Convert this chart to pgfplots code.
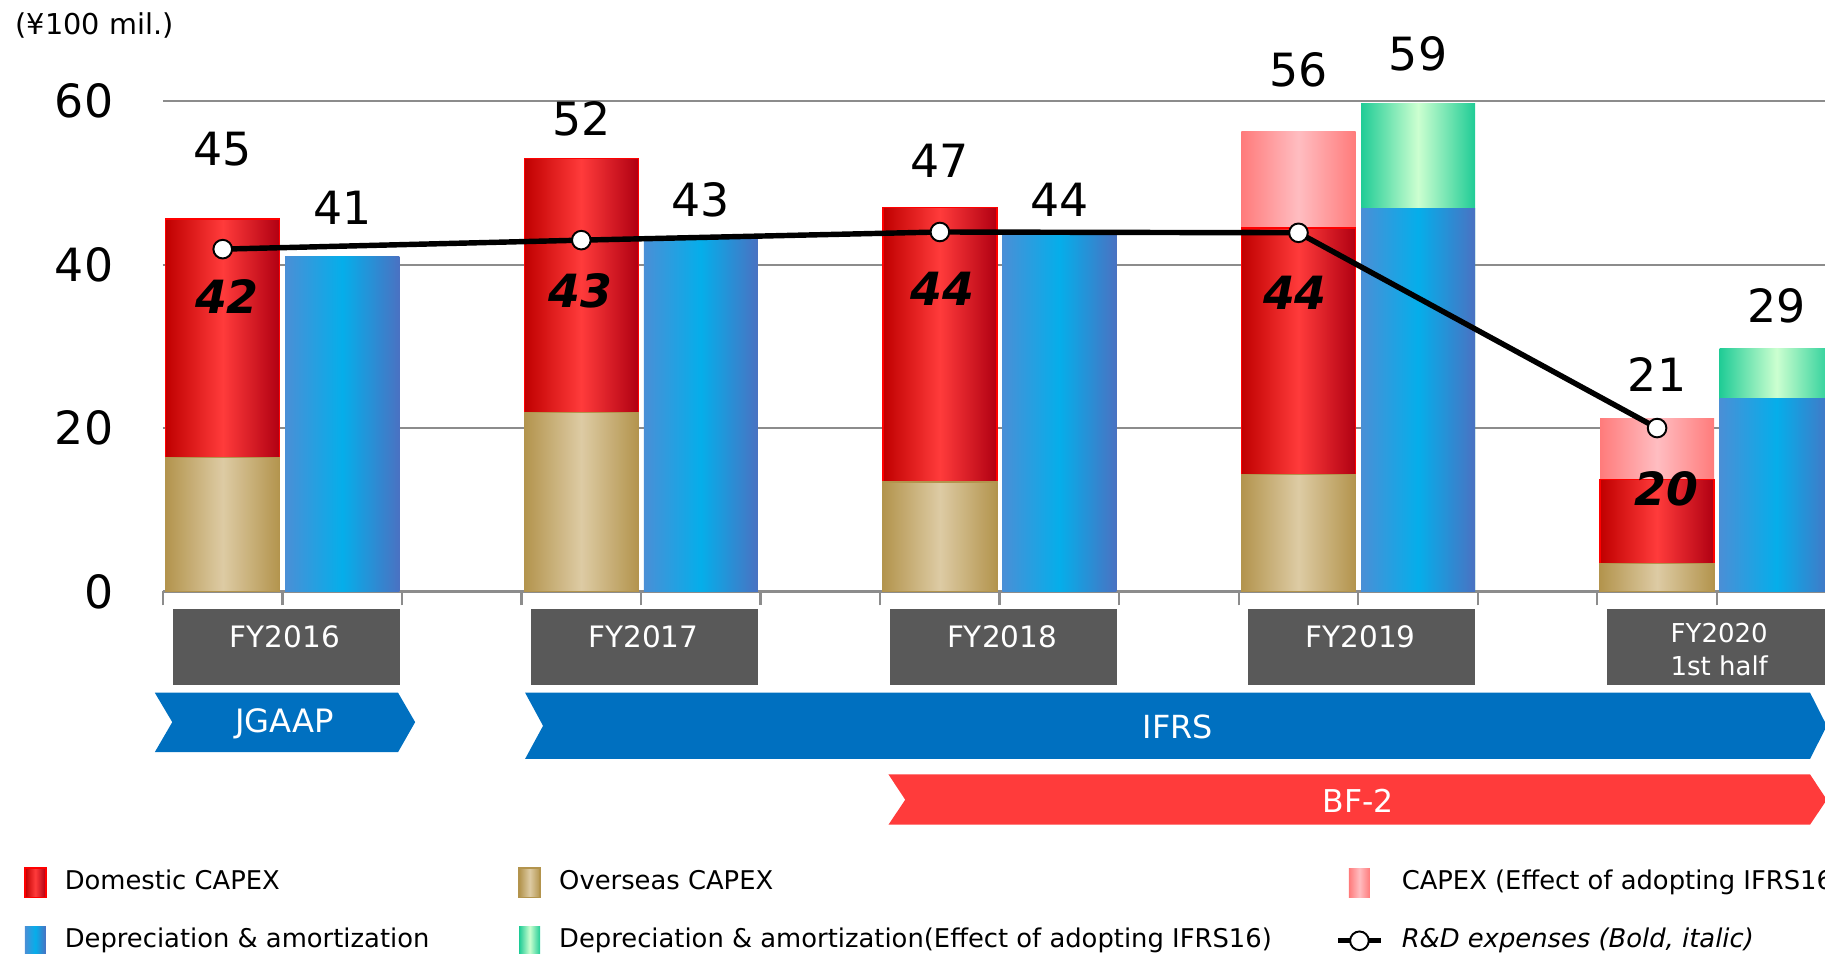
\documentclass[border=0pt]{standalone}
\usepackage{pgfplots}
\pgfplotsset{compat=1.18}
\usepackage{fontspec}
\setmainfont{DejaVu Sans}

\definecolor{gridgray}{HTML}{8C8C8C}
\definecolor{boxgray}{HTML}{595959}
\definecolor{ifrsblue}{HTML}{0070C0}
\definecolor{bfred}{HTML}{FF3B3B}
\definecolor{domL}{HTML}{C00000}
\definecolor{domM}{HTML}{FF3B3B}
\definecolor{domR}{HTML}{B00012}
\definecolor{ovL}{HTML}{B3944D}
\definecolor{ovM}{HTML}{DDCBA4}
\definecolor{pinkE}{HTML}{FF7B7B}
\definecolor{pinkM}{HTML}{FFBDC1}
\definecolor{daL}{HTML}{4A8FD6}
\definecolor{daM}{HTML}{05AEEA}
\definecolor{daR}{HTML}{4A72C2}
\definecolor{grE}{HTML}{20CC96}
\definecolor{grM}{HTML}{CCFFD0}

\tikzset{
  lab/.style={font=\fontsize{11.8}{14}\selectfont},
  rdlab/.style={font=\fontsize{11.8}{14}\selectfont\bfseries\itshape},
  fylab/.style={text=white, font=\fontsize{7.6}{9}\selectfont},
}
\pgfplotsset{
  onebar/.style={ybar, bar width=0.954, bar shift=0pt, forget plot},
  domstyle/.style={left color=domL, right color=domR, middle color=domM, draw=red, line width=0.4pt},
  ovstyle/.style={left color=ovL, right color=ovL, middle color=ovM, draw=ovL, line width=0.4pt},
  pinkstyle/.style={left color=pinkE, right color=pinkE, middle color=pinkM, draw=none},
  dastyle/.style={left color=daL, right color=daR, middle color=daM, draw=none},
  grstyle/.style={left color=grE, right color=grE, middle color=grM, draw=none},
  rdstyle/.style={black, line width=1.4pt, mark=*, mark size=2.4pt,
    mark options={fill=white, draw=black, line width=0.5pt}},
  swatch/.style={legend image code/.code={\path[##1] (-2.7pt,-3.75pt) rectangle (2.7pt,3.75pt);}},
  rdlegend/.style={legend image code/.code={%
    \draw[##1] (-5.5pt,0pt) -- (5.5pt,0pt);
    \draw[##1] plot coordinates {(0pt,0pt)};}},
  common/.style={scale only axis, width=462pt, height=126.3pt,
    xmin=0, xmax=15, ymin=0, ymax=60, clip=false},
}

\begin{document}
\begin{tikzpicture}
\begin{axis}[
  common,
  axis x line*=bottom, axis y line*=left,
  y axis line style={draw=none},
  x axis line style={draw=gridgray, line width=0.6pt},
  xtick={0,1,2,3,4,5,6,7,8,9,10,11,12,13,14,15}, xticklabels={},
  xtick style={draw=gridgray, line width=0.6pt},
  xtick align=outside, major tick length=3.6pt,
  ytick={0,20,40,60},
  ytick style={draw=none},
  ymajorgrids, grid style={draw=gridgray, line width=0.6pt},
  yticklabel style={font=\fontsize{11.8}{14}\selectfont, inner sep=0pt, xshift=-12.6pt},
  /pgf/number format/assume math mode=true,
  legend columns=3,
  legend cell align=left,
  legend style={at={(-0.0779,-0.551)}, anchor=north west, draw=none, fill=none,
    font=\fontsize{6.65}{8}\selectfont, inner sep=0pt,
    column sep=2.7pt, row sep=4.4pt},
]
% CAPEX bars (x = 3k+0.5): each segment drawn from 0 up to its stacked top,
% top segment first, so the lower segments cover it
% IFRS16 effect on CAPEX: tops 56.3 (FY2019), 21.2 (FY2020 1H)
\addplot[onebar, pinkstyle] coordinates {(9.5,56.3)};
\addplot[onebar, pinkstyle] coordinates {(12.5,21.2)};
% domestic CAPEX tops
\addplot[onebar, domstyle] coordinates {(0.5,45.6)};
\addplot[onebar, domstyle] coordinates {(3.5,53.0)};
\addplot[onebar, domstyle] coordinates {(6.5,47.0)};
\addplot[onebar, domstyle] coordinates {(9.5,44.5)};
\addplot[onebar, domstyle] coordinates {(12.5,13.7)};
% overseas CAPEX
\addplot[onebar, ovstyle] coordinates {(0.5,16.4)};
\addplot[onebar, ovstyle] coordinates {(3.5,21.9)};
\addplot[onebar, ovstyle] coordinates {(6.5,13.4)};
\addplot[onebar, ovstyle] coordinates {(9.5,14.3)};
\addplot[onebar, ovstyle] coordinates {(12.5,3.4)};
% depreciation bars (x = 3k+1.5): IFRS16 effect tops, then D&A
\addplot[onebar, grstyle] coordinates {(10.5,59.7)};
\addplot[onebar, grstyle] coordinates {(13.5,29.7)};
\addplot[onebar, dastyle] coordinates {(1.5,41.0)};
\addplot[onebar, dastyle] coordinates {(4.5,43.1)};
\addplot[onebar, dastyle] coordinates {(7.5,43.8)};
\addplot[onebar, dastyle] coordinates {(10.5,46.9)};
\addplot[onebar, dastyle] coordinates {(13.5,23.6)};

\addlegendimage{domstyle, swatch}
\addlegendentry{\makebox[112.2pt][l]{Domestic CAPEX}}
\addlegendimage{ovstyle, swatch}
\addlegendentry{\makebox[195.3pt][l]{Overseas CAPEX}}
\addlegendimage{pinkstyle, swatch}
\addlegendentry{CAPEX (Effect of adopting IFRS16)}
\addlegendimage{dastyle, swatch}
\addlegendentry{\makebox[112.2pt][l]{Depreciation \& amortization}}
\addlegendimage{grstyle, swatch}
\addlegendentry{\makebox[195.3pt][l]{Depreciation \& amortization(Effect of adopting IFRS16)}}
\addlegendimage{rdstyle, rdlegend}
\addlegendentry{\itshape R\&D expenses (Bold, italic)}

% category boxes
\fill[boxgray] (axis cs:0.08,-2.1) rectangle (axis cs:1.98,-11.4);
\fill[boxgray] (axis cs:3.08,-2.1) rectangle (axis cs:4.98,-11.4);
\fill[boxgray] (axis cs:6.08,-2.1) rectangle (axis cs:7.98,-11.4);
\fill[boxgray] (axis cs:9.08,-2.1) rectangle (axis cs:10.98,-11.4);
\fill[boxgray] (axis cs:12.08,-2.1) rectangle (axis cs:13.98,-11.4);
% accounting standards / plan
\fill[ifrsblue] (axis cs:-0.068,-12.4) -- (axis cs:1.967,-12.4) -- (axis cs:2.11,-16.0)
  -- (axis cs:1.967,-19.67) -- (axis cs:-0.068,-19.67) -- (axis cs:0.078,-16.0) -- cycle;
\fill[ifrsblue] (axis cs:3.03,-12.4) -- (axis cs:13.78,-12.4) -- (axis cs:13.92,-16.45)
  -- (axis cs:13.78,-20.5) -- (axis cs:3.03,-20.5) -- (axis cs:3.18,-16.45) -- cycle;
\fill[bfred] (axis cs:6.07,-22.4) -- (axis cs:13.78,-22.4) -- (axis cs:13.92,-25.5)
  -- (axis cs:13.78,-28.55) -- (axis cs:6.07,-28.55) -- (axis cs:6.21,-25.5) -- cycle;

\coordinate (bbsw) at (axis cs:-1.3632,-44.32);
\coordinate (bbne) at (axis cs:13.905,72.4);
\end{axis}

\begin{axis}[common, hide axis]
\addplot[rdstyle] coordinates {(0.5,41.9) (3.5,43.0) (6.5,44.0) (9.5,43.9) (12.5,20.0)};
% totals
\node[lab] at (axis cs:0.5,54.2) {45};
\node[lab] at (axis cs:1.5,47.0) {41};
\node[lab] at (axis cs:3.5,57.9) {52};
\node[lab] at (axis cs:4.5,47.9) {43};
\node[lab] at (axis cs:6.5,52.7) {47};
\node[lab] at (axis cs:7.5,47.9) {44};
\node[lab] at (axis cs:9.5,63.8) {56};
\node[lab] at (axis cs:10.5,65.8) {59};
\node[lab] at (axis cs:12.5,26.6) {21};
\node[lab] at (axis cs:13.5,34.9) {29};
% R&D values
\node[rdlab] at (axis cs:0.535,36.1) {42};
\node[rdlab] at (axis cs:3.49,36.8) {43};
\node[rdlab] at (axis cs:6.52,37.1) {44};
\node[rdlab] at (axis cs:9.47,36.5) {44};
\node[rdlab] at (axis cs:12.58,12.5) {20};
% labels under the axis
\node[fylab] at (axis cs:1.02,-5.6) {FY2016};
\node[fylab] at (axis cs:4.02,-5.6) {FY2017};
\node[fylab] at (axis cs:7.02,-5.6) {FY2018};
\node[fylab] at (axis cs:10.02,-5.6) {FY2019};
\node[text=white, font=\fontsize{6.7}{8}\selectfont] at (axis cs:13.02,-5.13) {FY2020};
\node[text=white, font=\fontsize{6.7}{8}\selectfont] at (axis cs:13.02,-9.12) {1st half};
\node[text=white, font=\fontsize{8.3}{10}\selectfont] at (axis cs:1.02,-16.2) {JGAAP};
\node[text=white, font=\fontsize{8.2}{10}\selectfont] at (axis cs:8.49,-16.6) {IFRS};
\node[text=white, font=\fontsize{8.1}{10}\selectfont] at (axis cs:10.0,-25.6) {BF-2};
\node[anchor=west, font=\fontsize{7.4}{9}\selectfont] at (axis cs:-1.346,69.3) {(¥100 mil.)};
\end{axis}
\pgfresetboundingbox
\path[use as bounding box] (bbsw) rectangle (bbne);
\end{tikzpicture}
\end{document}
